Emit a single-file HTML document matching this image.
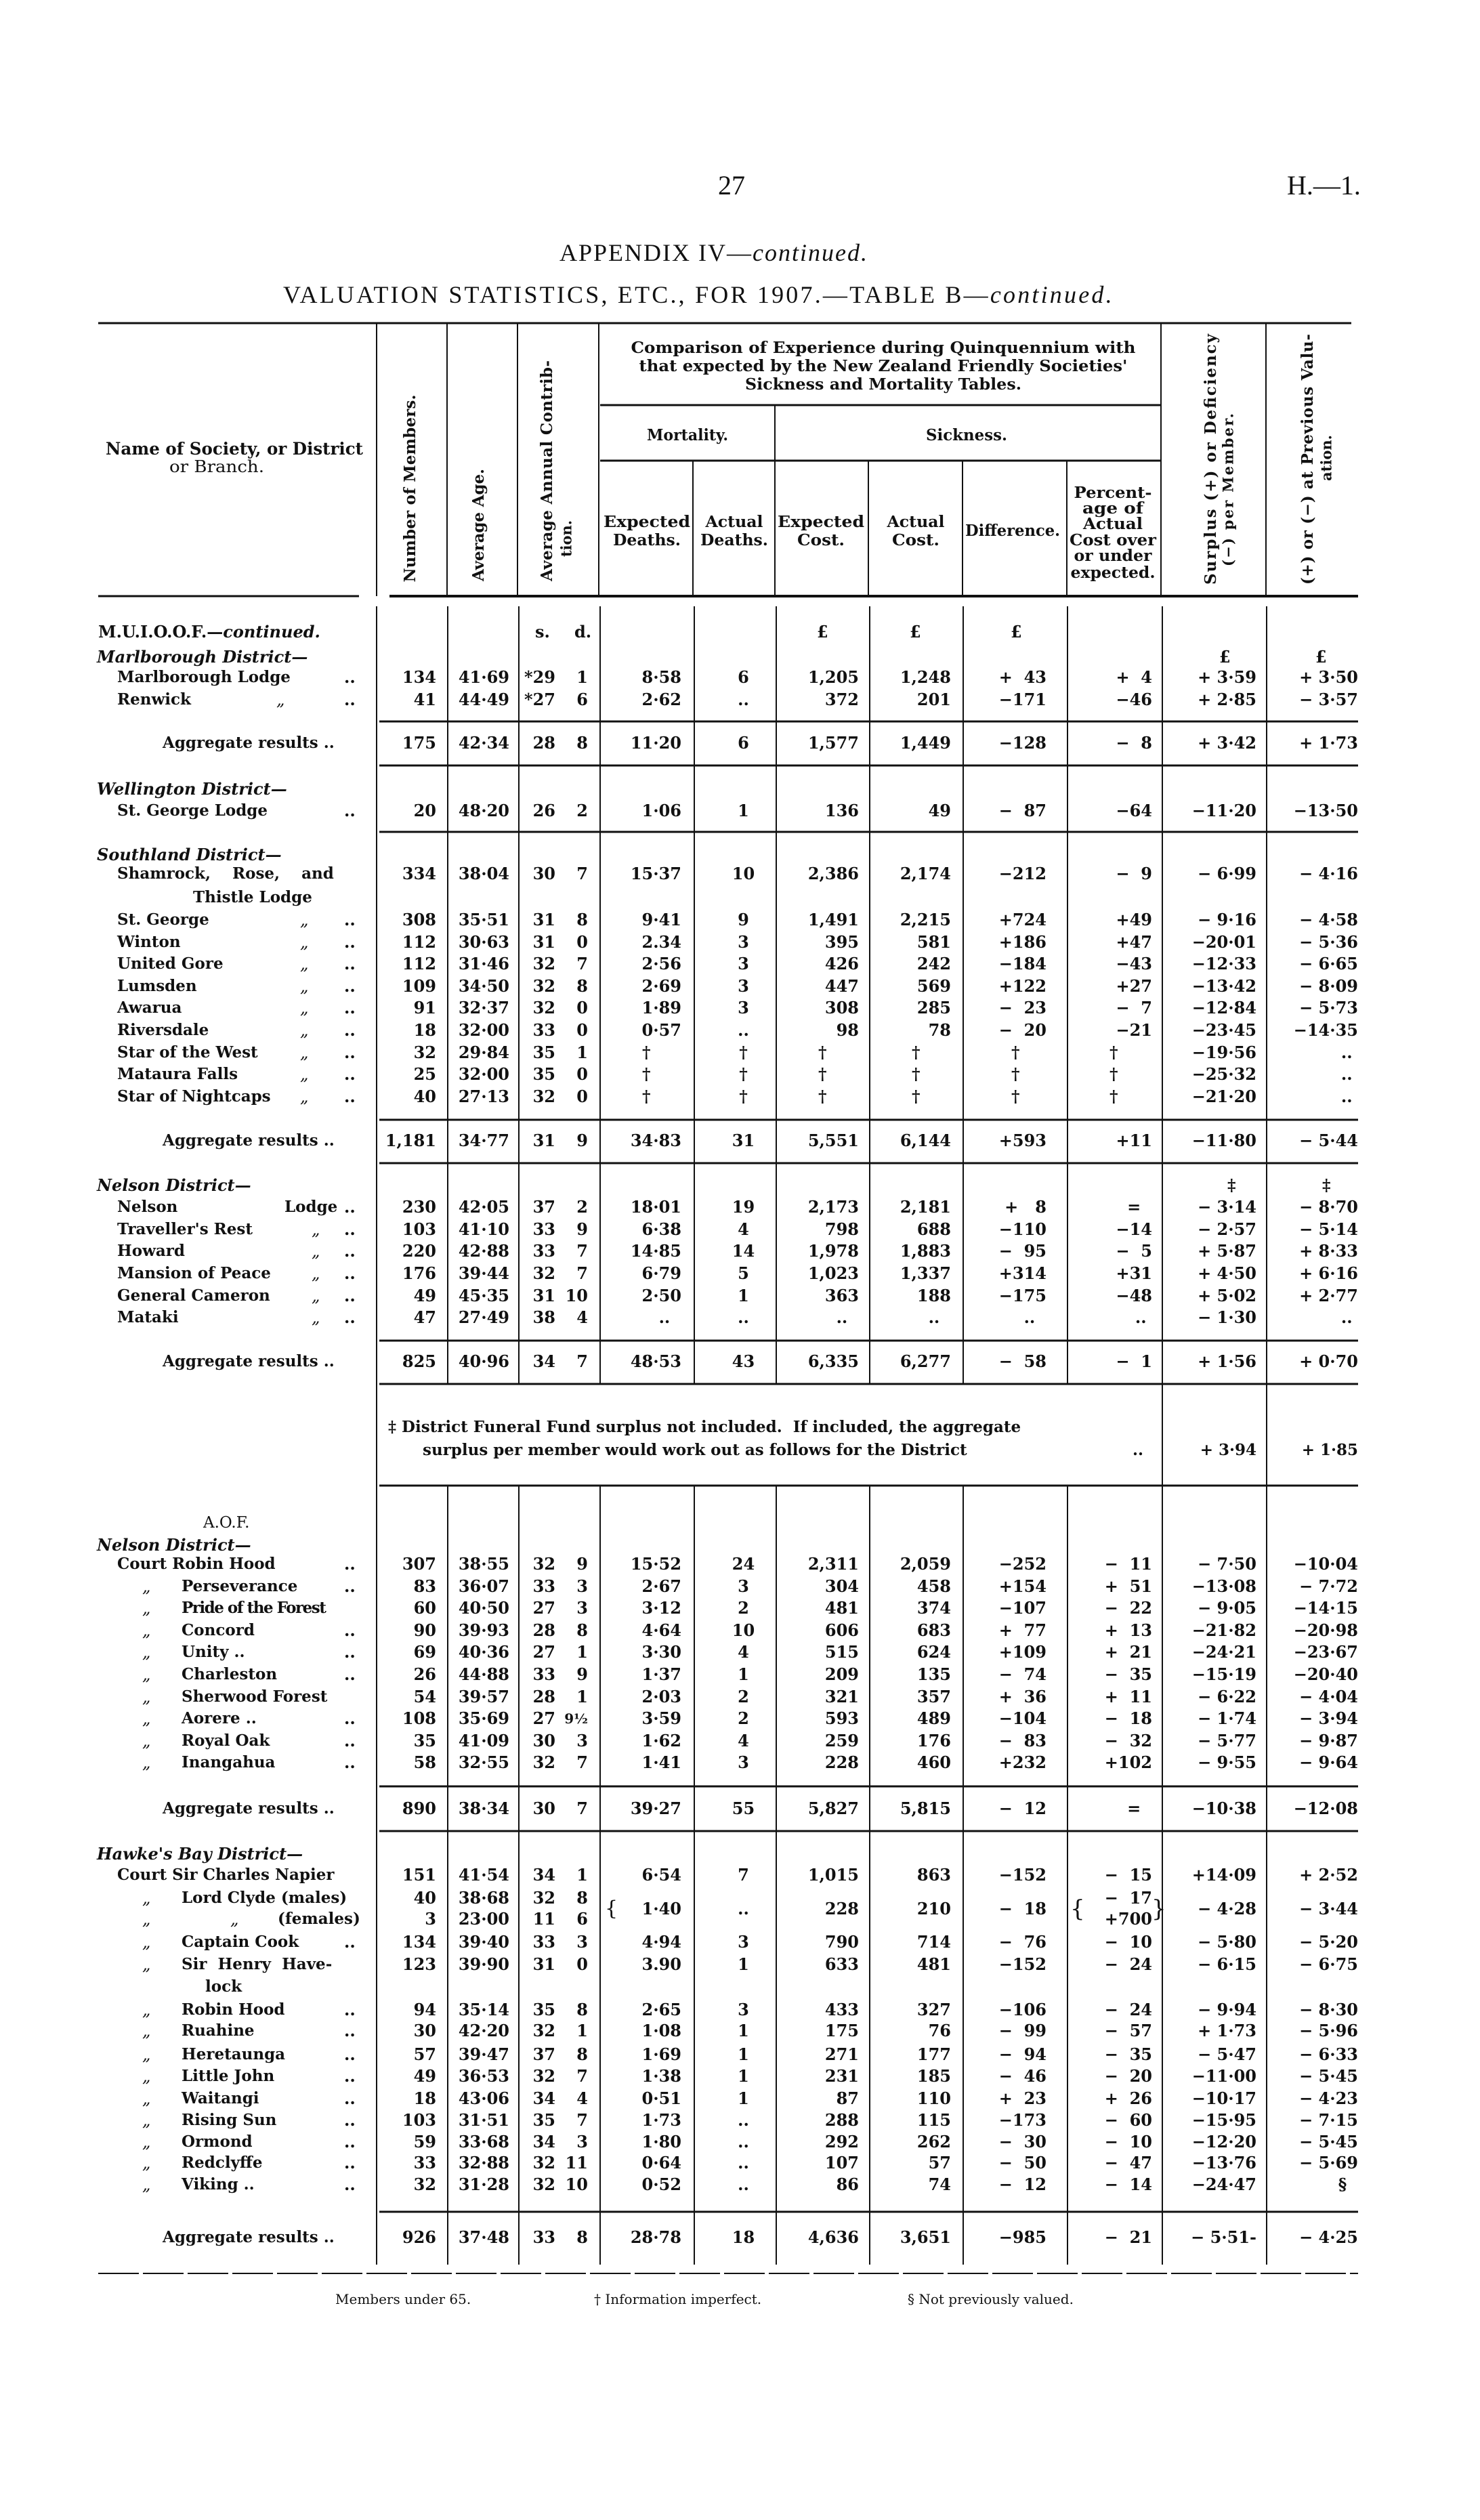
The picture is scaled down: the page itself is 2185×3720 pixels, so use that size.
<!DOCTYPE html>
<html><head><meta charset="utf-8">
<style>
html,body{margin:0;padding:0;background:#fff;}
body{width:2185px;height:3720px;position:relative;overflow:hidden;color:#111;font-family:"DejaVu Serif","Liberation Serif",serif;}
.r{position:absolute;left:0;width:2185px;height:32px;line-height:32px;font-size:24px;font-weight:bold;white-space:pre;}
.r span{position:absolute;top:0;}
.a{right:1541px}.b{right:1433px}.c{right:1365px}.d{right:1317px}.e{right:1179px}
.f{left:1050px;width:95px;text-align:center}
.g{right:917px}.h{right:781px}.i{right:640px}.j{right:484px}.k{right:330px}.l{right:180px}
.n0{left:143px;font-style:italic}
.n1{left:173px;font-size:23px}
.ag{left:240px;font-size:23px}
.dt{left:508px}
.q{font-style:italic;font-weight:normal}
.t{position:absolute;white-space:pre;}
svg{position:absolute;left:0;top:0}
</style></head><body>
<svg width="2185" height="3720" viewBox="0 0 2185 3720">
<g stroke="#111" fill="none">
<line x1="145" y1="477" x2="1995" y2="477" stroke-width="3"/>
<line x1="886" y1="598" x2="1714" y2="598" stroke-width="3"/>
<line x1="886" y1="680" x2="1714" y2="680" stroke-width="3"/>
<line x1="145" y1="880" x2="530" y2="880" stroke-width="3"/>
<line x1="575" y1="880" x2="2005" y2="880" stroke-width="4"/>
<g stroke-width="2">
<line x1="556" y1="477" x2="556" y2="880"/><line x1="660" y1="477" x2="660" y2="880"/>
<line x1="764" y1="477" x2="764" y2="880"/><line x1="884" y1="477" x2="884" y2="880"/>
<line x1="1714" y1="477" x2="1714" y2="880"/><line x1="1869" y1="477" x2="1869" y2="880"/>
<line x1="1144" y1="598" x2="1144" y2="880"/>
<line x1="1023" y1="680" x2="1023" y2="880"/><line x1="1282" y1="680" x2="1282" y2="880"/>
<line x1="1421" y1="680" x2="1421" y2="880"/><line x1="1575" y1="680" x2="1575" y2="880"/>
</g>
<g stroke-width="2">
<line x1="556" y1="895" x2="556" y2="3343"/>
<line x1="1716" y1="895" x2="1716" y2="3343"/>
<line x1="1870" y1="895" x2="1870" y2="3343"/>
<line x1="661" y1="895" x2="661" y2="2043"/><line x1="766" y1="895" x2="766" y2="2043"/>
<line x1="886" y1="895" x2="886" y2="2043"/><line x1="1025" y1="895" x2="1025" y2="2043"/>
<line x1="1146" y1="895" x2="1146" y2="2043"/><line x1="1284" y1="895" x2="1284" y2="2043"/>
<line x1="1422" y1="895" x2="1422" y2="2043"/><line x1="1576" y1="895" x2="1576" y2="2043"/>
<line x1="661" y1="2193" x2="661" y2="3343"/><line x1="766" y1="2193" x2="766" y2="3343"/>
<line x1="886" y1="2193" x2="886" y2="3343"/><line x1="1025" y1="2193" x2="1025" y2="3343"/>
<line x1="1146" y1="2193" x2="1146" y2="3343"/><line x1="1284" y1="2193" x2="1284" y2="3343"/>
<line x1="1422" y1="2193" x2="1422" y2="3343"/><line x1="1576" y1="2193" x2="1576" y2="3343"/>
</g>
<g stroke-width="3">
<line x1="560" y1="1065" x2="2005" y2="1065"/><line x1="560" y1="1130" x2="2005" y2="1130"/>
<line x1="560" y1="1228" x2="2005" y2="1228"/><line x1="560" y1="1653" x2="2005" y2="1653"/>
<line x1="560" y1="1717" x2="2005" y2="1717"/><line x1="560" y1="1979" x2="2005" y2="1979"/>
<line x1="560" y1="2043" x2="2005" y2="2043"/><line x1="560" y1="2193" x2="2005" y2="2193"/>
<line x1="560" y1="2637" x2="2005" y2="2637"/><line x1="560" y1="2703" x2="2005" y2="2703"/>
<line x1="560" y1="3265" x2="2005" y2="3265"/>
</g>
<line x1="145" y1="3356" x2="2005" y2="3356" stroke-width="2" stroke-dasharray="60 6"/>
</g>
<g fill="#111" font-family="DejaVu Serif, Liberation Serif, serif" font-weight="bold">
<text x="607" y="721" transform="rotate(-90 607 721)" text-anchor="middle" dominant-baseline="middle" font-size="23" textLength="277" lengthAdjust="spacing">Number of Members.</text>
<text x="708" y="775" transform="rotate(-90 708 775)" text-anchor="middle" dominant-baseline="middle" font-size="23" textLength="166" lengthAdjust="spacing">Average Age.</text>
<text x="809" y="695" transform="rotate(-90 809 695)" text-anchor="middle" dominant-baseline="middle" font-size="23" textLength="326" lengthAdjust="spacing">Average Annual Contrib-</text>
<text x="838" y="795" transform="rotate(-90 838 795)" text-anchor="middle" dominant-baseline="middle" font-size="21">tion.</text>
<text x="1789" y="678" transform="rotate(-90 1789 678)" text-anchor="middle" dominant-baseline="middle" font-size="23" textLength="370" lengthAdjust="spacing">Surplus (+) or Deficiency</text>
<text x="1815" y="723" transform="rotate(-90 1815 723)" text-anchor="middle" dominant-baseline="middle" font-size="21" textLength="226" lengthAdjust="spacing">(−) per Member.</text>
<text x="1932" y="678" transform="rotate(-90 1932 678)" text-anchor="middle" dominant-baseline="middle" font-size="23" textLength="370" lengthAdjust="spacing">(+) or (−) at Previous Valu-</text>
<text x="1960" y="676" transform="rotate(-90 1960 676)" text-anchor="middle" dominant-baseline="middle" font-size="21">ation.</text>
<g font-size="23" text-anchor="middle">
<text x="1304" y="521" textLength="745" lengthAdjust="spacingAndGlyphs">Comparison of Experience during Quinquennium with</text>
<text x="1304" y="548" textLength="721" lengthAdjust="spacingAndGlyphs">that expected by the New Zealand Friendly Societies'</text>
<text x="1304" y="575" textLength="408" lengthAdjust="spacingAndGlyphs">Sickness and Mortality Tables.</text>
<text x="1015" y="650" textLength="120" lengthAdjust="spacingAndGlyphs">Mortality.</text>
<text x="1427" y="650" textLength="120" lengthAdjust="spacingAndGlyphs">Sickness.</text>
<text x="955" y="778" textLength="128" lengthAdjust="spacingAndGlyphs">Expected</text>
<text x="955" y="805" textLength="100" lengthAdjust="spacingAndGlyphs">Deaths.</text>
<text x="1084" y="778" textLength="85" lengthAdjust="spacingAndGlyphs">Actual</text>
<text x="1084" y="805" textLength="100" lengthAdjust="spacingAndGlyphs">Deaths.</text>
<text x="1212" y="778" textLength="128" lengthAdjust="spacingAndGlyphs">Expected</text>
<text x="1212" y="805" textLength="70" lengthAdjust="spacingAndGlyphs">Cost.</text>
<text x="1352" y="778" textLength="85" lengthAdjust="spacingAndGlyphs">Actual</text>
<text x="1352" y="805" textLength="70" lengthAdjust="spacingAndGlyphs">Cost.</text>
<text x="1495" y="791" textLength="140" lengthAdjust="spacingAndGlyphs">Difference.</text>
<text x="1643" y="735" textLength="115" lengthAdjust="spacingAndGlyphs">Percent-</text>
<text x="1643" y="758" textLength="90" lengthAdjust="spacingAndGlyphs">age of</text>
<text x="1643" y="781" textLength="88" lengthAdjust="spacingAndGlyphs">Actual</text>
<text x="1643" y="805" textLength="128" lengthAdjust="spacingAndGlyphs">Cost over</text>
<text x="1643" y="828" textLength="115" lengthAdjust="spacingAndGlyphs">or under</text>
<text x="1643" y="853" textLength="125" lengthAdjust="spacingAndGlyphs">expected.</text>
<text x="346" y="671" textLength="380" lengthAdjust="spacingAndGlyphs" font-size="25">Name of Society, or District</text>
<text x="320" y="697" font-size="24" font-weight="normal" textLength="140" lengthAdjust="spacingAndGlyphs">or Branch.</text>
</g>
</g>
</svg>

<div class="t" style="left:1060px;top:250px;font-size:40px;font-family:'Liberation Serif',serif;">27</div>
<div class="t" style="left:1900px;top:250px;font-size:40px;font-family:'Liberation Serif',serif;">H.—1.</div>
<div class="t" style="left:826px;top:352px;font-size:36px;font-family:'Liberation Serif',serif;letter-spacing:2px;">APPENDIX IV—<i>continued.</i></div>
<div class="t" style="left:418px;top:414px;font-size:36px;font-family:'Liberation Serif',serif;letter-spacing:3.2px;">VALUATION STATISTICS, ETC., FOR 1907.—TABLE B—<i>continued.</i></div>

<div class="r" style="top:917px"><span style="left:145px">M.U.I.O.O.F.—<i>continued.</i></span><span style="left:790px">s.</span><span style="left:848px">d.</span><span style="left:1206px">£</span><span style="left:1343px">£</span><span style="left:1492px">£</span></div>
<div class="r" style="top:954px"><span class="n0">Marlborough District—</span><span style="left:1800px">£</span><span style="left:1942px">£</span></div>
<div class="r" style="top:984px"><span class="n1">Marlborough Lodge</span><span class="dt">..</span><span class="a">134</span><span class="b">41·69</span><span class="c">*29</span><span class="d">1</span><span class="e">8·58</span><span class="f">6</span><span class="g">1,205</span><span class="h">1,248</span><span class="i">+  43</span><span class="j">+  4</span><span class="k">+ 3·59</span><span class="l">+ 3·50</span></div>
<div class="r" style="top:1017px"><span class="n1">Renwick</span><span class="q" style="left:408px">„</span><span class="dt">..</span><span class="a">41</span><span class="b">44·49</span><span class="c">*27</span><span class="d">6</span><span class="e">2·62</span><span class="f">..</span><span class="g">372</span><span class="h">201</span><span class="i">−171</span><span class="j">−46</span><span class="k">+ 2·85</span><span class="l">− 3·57</span></div>
<div class="r" style="top:1081px"><span class="ag">Aggregate results ..</span><span class="a">175</span><span class="b">42·34</span><span class="c">28</span><span class="d">8</span><span class="e">11·20</span><span class="f">6</span><span class="g">1,577</span><span class="h">1,449</span><span class="i">−128</span><span class="j">−  8</span><span class="k">+ 3·42</span><span class="l">+ 1·73</span></div>
<div class="r" style="top:1149px"><span class="n0">Wellington District—</span></div>
<div class="r" style="top:1181px"><span class="n1">St. George Lodge</span><span class="dt">..</span><span class="a">20</span><span class="b">48·20</span><span class="c">26</span><span class="d">2</span><span class="e">1·06</span><span class="f">1</span><span class="g">136</span><span class="h">49</span><span class="i">−  87</span><span class="j">−64</span><span class="k">−11·20</span><span class="l">−13·50</span></div>
<div class="r" style="top:1246px"><span class="n0">Southland District—</span></div>
<div class="r" style="top:1274px"><span class="n1">Shamrock,    Rose,    and</span><span class="a">334</span><span class="b">38·04</span><span class="c">30</span><span class="d">7</span><span class="e">15·37</span><span class="f">10</span><span class="g">2,386</span><span class="h">2,174</span><span class="i">−212</span><span class="j">−  9</span><span class="k">− 6·99</span><span class="l">− 4·16</span></div>
<div class="r" style="top:1309px"><span class="n1" style="left:285px">Thistle Lodge</span></div>
<div class="r" style="top:1342px"><span class="n1">St. George</span><span class="q" style="left:443px">„</span><span class="dt">..</span><span class="a">308</span><span class="b">35·51</span><span class="c">31</span><span class="d">8</span><span class="e">9·41</span><span class="f">9</span><span class="g">1,491</span><span class="h">2,215</span><span class="i">+724</span><span class="j">+49</span><span class="k">− 9·16</span><span class="l">− 4·58</span></div>
<div class="r" style="top:1375px"><span class="n1">Winton</span><span class="q" style="left:443px">„</span><span class="dt">..</span><span class="a">112</span><span class="b">30·63</span><span class="c">31</span><span class="d">0</span><span class="e">2.34</span><span class="f">3</span><span class="g">395</span><span class="h">581</span><span class="i">+186</span><span class="j">+47</span><span class="k">−20·01</span><span class="l">− 5·36</span></div>
<div class="r" style="top:1407px"><span class="n1">United Gore</span><span class="q" style="left:443px">„</span><span class="dt">..</span><span class="a">112</span><span class="b">31·46</span><span class="c">32</span><span class="d">7</span><span class="e">2·56</span><span class="f">3</span><span class="g">426</span><span class="h">242</span><span class="i">−184</span><span class="j">−43</span><span class="k">−12·33</span><span class="l">− 6·65</span></div>
<div class="r" style="top:1440px"><span class="n1">Lumsden</span><span class="q" style="left:443px">„</span><span class="dt">..</span><span class="a">109</span><span class="b">34·50</span><span class="c">32</span><span class="d">8</span><span class="e">2·69</span><span class="f">3</span><span class="g">447</span><span class="h">569</span><span class="i">+122</span><span class="j">+27</span><span class="k">−13·42</span><span class="l">− 8·09</span></div>
<div class="r" style="top:1472px"><span class="n1">Awarua</span><span class="q" style="left:443px">„</span><span class="dt">..</span><span class="a">91</span><span class="b">32·37</span><span class="c">32</span><span class="d">0</span><span class="e">1·89</span><span class="f">3</span><span class="g">308</span><span class="h">285</span><span class="i">−  23</span><span class="j">−  7</span><span class="k">−12·84</span><span class="l">− 5·73</span></div>
<div class="r" style="top:1505px"><span class="n1">Riversdale</span><span class="q" style="left:443px">„</span><span class="dt">..</span><span class="a">18</span><span class="b">32·00</span><span class="c">33</span><span class="d">0</span><span class="e">0·57</span><span class="f">..</span><span class="g">98</span><span class="h">78</span><span class="i">−  20</span><span class="j">−21</span><span class="k">−23·45</span><span class="l">−14·35</span></div>
<div class="r" style="top:1538px"><span class="n1">Star of the West</span><span class="q" style="left:443px">„</span><span class="dt">..</span><span class="a">32</span><span class="b">29·84</span><span class="c">35</span><span class="d">1</span><span style="left:948px">†</span><span class="f">†</span><span style="left:1208px">†</span><span style="left:1346px">†</span><span style="left:1493px">†</span><span style="left:1638px">†</span><span class="k">−19·56</span><span class="l">.. </span></div>
<div class="r" style="top:1570px"><span class="n1">Mataura Falls</span><span class="q" style="left:443px">„</span><span class="dt">..</span><span class="a">25</span><span class="b">32·00</span><span class="c">35</span><span class="d">0</span><span style="left:948px">†</span><span class="f">†</span><span style="left:1208px">†</span><span style="left:1346px">†</span><span style="left:1493px">†</span><span style="left:1638px">†</span><span class="k">−25·32</span><span class="l">.. </span></div>
<div class="r" style="top:1603px"><span class="n1">Star of Nightcaps</span><span class="q" style="left:443px">„</span><span class="dt">..</span><span class="a">40</span><span class="b">27·13</span><span class="c">32</span><span class="d">0</span><span style="left:948px">†</span><span class="f">†</span><span style="left:1208px">†</span><span style="left:1346px">†</span><span style="left:1493px">†</span><span style="left:1638px">†</span><span class="k">−21·20</span><span class="l">.. </span></div>
<div class="r" style="top:1668px"><span class="ag">Aggregate results ..</span><span class="a">1,181</span><span class="b">34·77</span><span class="c">31</span><span class="d">9</span><span class="e">34·83</span><span class="f">31</span><span class="g">5,551</span><span class="h">6,144</span><span class="i">+593</span><span class="j">+11</span><span class="k">−11·80</span><span class="l">− 5·44</span></div>
<div class="r" style="top:1734px"><span class="n0">Nelson District—</span><span style="left:1812px">‡</span><span style="left:1952px">‡</span></div>
<div class="r" style="top:1766px"><span class="n1">Nelson</span><span class="n1" style="left:420px">Lodge</span><span class="dt">..</span><span class="a">230</span><span class="b">42·05</span><span class="c">37</span><span class="d">2</span><span class="e">18·01</span><span class="f">19</span><span class="g">2,173</span><span class="h">2,181</span><span class="i">+   8</span><span class="j">=  </span><span class="k">− 3·14</span><span class="l">− 8·70</span></div>
<div class="r" style="top:1799px"><span class="n1">Traveller's Rest</span><span class="q" style="left:460px">„</span><span class="dt">..</span><span class="a">103</span><span class="b">41·10</span><span class="c">33</span><span class="d">9</span><span class="e">6·38</span><span class="f">4</span><span class="g">798</span><span class="h">688</span><span class="i">−110</span><span class="j">−14</span><span class="k">− 2·57</span><span class="l">− 5·14</span></div>
<div class="r" style="top:1831px"><span class="n1">Howard</span><span class="q" style="left:460px">„</span><span class="dt">..</span><span class="a">220</span><span class="b">42·88</span><span class="c">33</span><span class="d">7</span><span class="e">14·85</span><span class="f">14</span><span class="g">1,978</span><span class="h">1,883</span><span class="i">−  95</span><span class="j">−  5</span><span class="k">+ 5·87</span><span class="l">+ 8·33</span></div>
<div class="r" style="top:1864px"><span class="n1">Mansion of Peace</span><span class="q" style="left:460px">„</span><span class="dt">..</span><span class="a">176</span><span class="b">39·44</span><span class="c">32</span><span class="d">7</span><span class="e">6·79</span><span class="f">5</span><span class="g">1,023</span><span class="h">1,337</span><span class="i">+314</span><span class="j">+31</span><span class="k">+ 4·50</span><span class="l">+ 6·16</span></div>
<div class="r" style="top:1897px"><span class="n1">General Cameron</span><span class="q" style="left:460px">„</span><span class="dt">..</span><span class="a">49</span><span class="b">45·35</span><span class="c">31</span><span class="d">10</span><span class="e">2·50</span><span class="f">1</span><span class="g">363</span><span class="h">188</span><span class="i">−175</span><span class="j">−48</span><span class="k">+ 5·02</span><span class="l">+ 2·77</span></div>
<div class="r" style="top:1929px"><span class="n1">Mataki</span><span class="q" style="left:460px">„</span><span class="dt">..</span><span class="a">47</span><span class="b">27·49</span><span class="c">38</span><span class="d">4</span><span class="e">..  </span><span class="f">..</span><span class="g">..  </span><span class="h">..  </span><span class="i">..  </span><span class="j">.. </span><span class="k">− 1·30</span><span class="l">.. </span></div>
<div class="r" style="top:1994px"><span class="ag">Aggregate results ..</span><span class="a">825</span><span class="b">40·96</span><span class="c">34</span><span class="d">7</span><span class="e">48·53</span><span class="f">43</span><span class="g">6,335</span><span class="h">6,277</span><span class="i">−  58</span><span class="j">−  1</span><span class="k">+ 1·56</span><span class="l">+ 0·70</span></div>
<div class="r" style="top:2091px;font-size:23px"><span style="left:573px">‡ District Funeral Fund surplus not included.  If included, the aggregate</span></div>
<div class="r" style="top:2125px;font-size:23px"><span style="left:624px">surplus per member would work out as follows for the District</span><span style="left:1672px">..</span><span class="k">+ 3·94</span><span class="l">+ 1·85</span></div>
<div class="r" style="top:2232px"><span style="left:300px;font-size:23px;font-weight:normal">A.O.F.</span></div>
<div class="r" style="top:2265px"><span class="n0">Nelson District—</span></div>
<div class="r" style="top:2293px"><span class="n1">Court Robin Hood</span><span class="dt">..</span><span class="a">307</span><span class="b">38·55</span><span class="c">32</span><span class="d">9</span><span class="e">15·52</span><span class="f">24</span><span class="g">2,311</span><span class="h">2,059</span><span class="i">−252</span><span class="j">−  11</span><span class="k">− 7·50</span><span class="l">−10·04</span></div>
<div class="r" style="top:2326px"><span class="q" style="left:210px">„</span><span class="n1" style="left:268px">Perseverance</span><span class="dt">..</span><span class="a">83</span><span class="b">36·07</span><span class="c">33</span><span class="d">3</span><span class="e">2·67</span><span class="f">3</span><span class="g">304</span><span class="h">458</span><span class="i">+154</span><span class="j">+  51</span><span class="k">−13·08</span><span class="l">− 7·72</span></div>
<div class="r" style="top:2358px"><span class="q" style="left:210px">„</span><span class="n1" style="left:268px;letter-spacing:-1.5px">Pride of the Forest</span><span class="a">60</span><span class="b">40·50</span><span class="c">27</span><span class="d">3</span><span class="e">3·12</span><span class="f">2</span><span class="g">481</span><span class="h">374</span><span class="i">−107</span><span class="j">−  22</span><span class="k">− 9·05</span><span class="l">−14·15</span></div>
<div class="r" style="top:2391px"><span class="q" style="left:210px">„</span><span class="n1" style="left:268px">Concord</span><span class="dt">..</span><span class="a">90</span><span class="b">39·93</span><span class="c">28</span><span class="d">8</span><span class="e">4·64</span><span class="f">10</span><span class="g">606</span><span class="h">683</span><span class="i">+  77</span><span class="j">+  13</span><span class="k">−21·82</span><span class="l">−20·98</span></div>
<div class="r" style="top:2423px"><span class="q" style="left:210px">„</span><span class="n1" style="left:268px">Unity ..</span><span class="dt">..</span><span class="a">69</span><span class="b">40·36</span><span class="c">27</span><span class="d">1</span><span class="e">3·30</span><span class="f">4</span><span class="g">515</span><span class="h">624</span><span class="i">+109</span><span class="j">+  21</span><span class="k">−24·21</span><span class="l">−23·67</span></div>
<div class="r" style="top:2456px"><span class="q" style="left:210px">„</span><span class="n1" style="left:268px">Charleston</span><span class="dt">..</span><span class="a">26</span><span class="b">44·88</span><span class="c">33</span><span class="d">9</span><span class="e">1·37</span><span class="f">1</span><span class="g">209</span><span class="h">135</span><span class="i">−  74</span><span class="j">−  35</span><span class="k">−15·19</span><span class="l">−20·40</span></div>
<div class="r" style="top:2489px"><span class="q" style="left:210px">„</span><span class="n1" style="left:268px">Sherwood Forest</span><span class="a">54</span><span class="b">39·57</span><span class="c">28</span><span class="d">1</span><span class="e">2·03</span><span class="f">2</span><span class="g">321</span><span class="h">357</span><span class="i">+  36</span><span class="j">+  11</span><span class="k">− 6·22</span><span class="l">− 4·04</span></div>
<div class="r" style="top:2521px"><span class="q" style="left:210px">„</span><span class="n1" style="left:268px">Aorere ..</span><span class="dt">..</span><span class="a">108</span><span class="b">35·69</span><span class="c">27</span><span class="d" style="font-size:20px">9½</span><span class="e">3·59</span><span class="f">2</span><span class="g">593</span><span class="h">489</span><span class="i">−104</span><span class="j">−  18</span><span class="k">− 1·74</span><span class="l">− 3·94</span></div>
<div class="r" style="top:2554px"><span class="q" style="left:210px">„</span><span class="n1" style="left:268px">Royal Oak</span><span class="dt">..</span><span class="a">35</span><span class="b">41·09</span><span class="c">30</span><span class="d">3</span><span class="e">1·62</span><span class="f">4</span><span class="g">259</span><span class="h">176</span><span class="i">−  83</span><span class="j">−  32</span><span class="k">− 5·77</span><span class="l">− 9·87</span></div>
<div class="r" style="top:2586px"><span class="q" style="left:210px">„</span><span class="n1" style="left:268px">Inangahua</span><span class="dt">..</span><span class="a">58</span><span class="b">32·55</span><span class="c">32</span><span class="d">7</span><span class="e">1·41</span><span class="f">3</span><span class="g">228</span><span class="h">460</span><span class="i">+232</span><span class="j">+102</span><span class="k">− 9·55</span><span class="l">− 9·64</span></div>
<div class="r" style="top:2654px"><span class="ag">Aggregate results ..</span><span class="a">890</span><span class="b">38·34</span><span class="c">30</span><span class="d">7</span><span class="e">39·27</span><span class="f">55</span><span class="g">5,827</span><span class="h">5,815</span><span class="i">−  12</span><span class="j">=  </span><span class="k">−10·38</span><span class="l">−12·08</span></div>
<div class="r" style="top:2721px"><span class="n0">Hawke's Bay District—</span></div>
<div class="r" style="top:2752px"><span class="n1">Court Sir Charles Napier</span><span class="a">151</span><span class="b">41·54</span><span class="c">34</span><span class="d">1</span><span class="e">6·54</span><span class="f">7</span><span class="g">1,015</span><span class="h">863</span><span class="i">−152</span><span class="j">−  15</span><span class="k">+14·09</span><span class="l">+ 2·52</span></div>
<div class="r" style="top:2786px"><span class="q" style="left:210px">„</span><span class="n1" style="left:268px">Lord Clyde (males)</span><span class="a">40</span><span class="b">38·68</span><span class="c">32</span><span class="d">8</span><span class="j">−  17</span></div>
<div class="r" style="top:2802px"><span style="left:893px;font-weight:normal;font-size:30px">{</span><span class="e">1·40</span><span class="f">..</span><span class="g">228</span><span class="h">210</span><span class="i">−  18</span><span style="left:1580px;font-weight:normal;font-size:34px">{</span><span style="left:1700px;font-weight:normal;font-size:34px">}</span><span class="k">− 4·28</span><span class="l">− 3·44</span></div>
<div class="r" style="top:2817px"><span class="q" style="left:210px">„</span><span class="q" style="left:340px">„</span><span class="n1" style="left:410px">(females)</span><span class="a">3</span><span class="b">23·00</span><span class="c">11</span><span class="d">6</span><span class="j">+700</span></div>
<div class="r" style="top:2851px"><span class="q" style="left:210px">„</span><span class="n1" style="left:268px">Captain Cook</span><span class="dt">..</span><span class="a">134</span><span class="b">39·40</span><span class="c">33</span><span class="d">3</span><span class="e">4·94</span><span class="f">3</span><span class="g">790</span><span class="h">714</span><span class="i">−  76</span><span class="j">−  10</span><span class="k">− 5·80</span><span class="l">− 5·20</span></div>
<div class="r" style="top:2884px"><span class="q" style="left:210px">„</span><span class="n1" style="left:268px">Sir  Henry  Have-</span><span class="a">123</span><span class="b">39·90</span><span class="c">31</span><span class="d">0</span><span class="e">3.90</span><span class="f">1</span><span class="g">633</span><span class="h">481</span><span class="i">−152</span><span class="j">−  24</span><span class="k">− 6·15</span><span class="l">− 6·75</span></div>
<div class="r" style="top:2917px"><span class="n1" style="left:303px">lock</span></div>
<div class="r" style="top:2951px"><span class="q" style="left:210px">„</span><span class="n1" style="left:268px">Robin Hood</span><span class="dt">..</span><span class="a">94</span><span class="b">35·14</span><span class="c">35</span><span class="d">8</span><span class="e">2·65</span><span class="f">3</span><span class="g">433</span><span class="h">327</span><span class="i">−106</span><span class="j">−  24</span><span class="k">− 9·94</span><span class="l">− 8·30</span></div>
<div class="r" style="top:2982px"><span class="q" style="left:210px">„</span><span class="n1" style="left:268px">Ruahine</span><span class="dt">..</span><span class="a">30</span><span class="b">42·20</span><span class="c">32</span><span class="d">1</span><span class="e">1·08</span><span class="f">1</span><span class="g">175</span><span class="h">76</span><span class="i">−  99</span><span class="j">−  57</span><span class="k">+ 1·73</span><span class="l">− 5·96</span></div>
<div class="r" style="top:3017px"><span class="q" style="left:210px">„</span><span class="n1" style="left:268px">Heretaunga</span><span class="dt">..</span><span class="a">57</span><span class="b">39·47</span><span class="c">37</span><span class="d">8</span><span class="e">1·69</span><span class="f">1</span><span class="g">271</span><span class="h">177</span><span class="i">−  94</span><span class="j">−  35</span><span class="k">− 5·47</span><span class="l">− 6·33</span></div>
<div class="r" style="top:3049px"><span class="q" style="left:210px">„</span><span class="n1" style="left:268px">Little John</span><span class="dt">..</span><span class="a">49</span><span class="b">36·53</span><span class="c">32</span><span class="d">7</span><span class="e">1·38</span><span class="f">1</span><span class="g">231</span><span class="h">185</span><span class="i">−  46</span><span class="j">−  20</span><span class="k">−11·00</span><span class="l">− 5·45</span></div>
<div class="r" style="top:3082px"><span class="q" style="left:210px">„</span><span class="n1" style="left:268px">Waitangi</span><span class="dt">..</span><span class="a">18</span><span class="b">43·06</span><span class="c">34</span><span class="d">4</span><span class="e">0·51</span><span class="f">1</span><span class="g">87</span><span class="h">110</span><span class="i">+  23</span><span class="j">+  26</span><span class="k">−10·17</span><span class="l">− 4·23</span></div>
<div class="r" style="top:3114px"><span class="q" style="left:210px">„</span><span class="n1" style="left:268px">Rising Sun</span><span class="dt">..</span><span class="a">103</span><span class="b">31·51</span><span class="c">35</span><span class="d">7</span><span class="e">1·73</span><span class="f">..</span><span class="g">288</span><span class="h">115</span><span class="i">−173</span><span class="j">−  60</span><span class="k">−15·95</span><span class="l">− 7·15</span></div>
<div class="r" style="top:3146px"><span class="q" style="left:210px">„</span><span class="n1" style="left:268px">Ormond</span><span class="dt">..</span><span class="a">59</span><span class="b">33·68</span><span class="c">34</span><span class="d">3</span><span class="e">1·80</span><span class="f">..</span><span class="g">292</span><span class="h">262</span><span class="i">−  30</span><span class="j">−  10</span><span class="k">−12·20</span><span class="l">− 5·45</span></div>
<div class="r" style="top:3177px"><span class="q" style="left:210px">„</span><span class="n1" style="left:268px">Redclyffe</span><span class="dt">..</span><span class="a">33</span><span class="b">32·88</span><span class="c">32</span><span class="d">11</span><span class="e">0·64</span><span class="f">..</span><span class="g">107</span><span class="h">57</span><span class="i">−  50</span><span class="j">−  47</span><span class="k">−13·76</span><span class="l">− 5·69</span></div>
<div class="r" style="top:3209px"><span class="q" style="left:210px">„</span><span class="n1" style="left:268px">Viking ..</span><span class="dt">..</span><span class="a">32</span><span class="b">31·28</span><span class="c">32</span><span class="d">10</span><span class="e">0·52</span><span class="f">..</span><span class="g">86</span><span class="h">74</span><span class="i">−  12</span><span class="j">−  14</span><span class="k">−24·47</span><span class="l">§  </span></div>
<div class="r" style="top:3287px"><span class="ag">Aggregate results ..</span><span class="a">926</span><span class="b">37·48</span><span class="c">33</span><span class="d">8</span><span class="e">28·78</span><span class="f">18</span><span class="g">4,636</span><span class="h">3,651</span><span class="i">−985</span><span class="j">−  21</span><span class="k">− 5·51-</span><span class="l">− 4·25</span></div>
<div class="r" style="top:3378px;font-size:20px;font-weight:normal"><span style="left:495px">Members under 65.</span><span style="left:877px">† Information imperfect.</span><span style="left:1340px">§ Not previously valued.</span></div>
</body></html>
